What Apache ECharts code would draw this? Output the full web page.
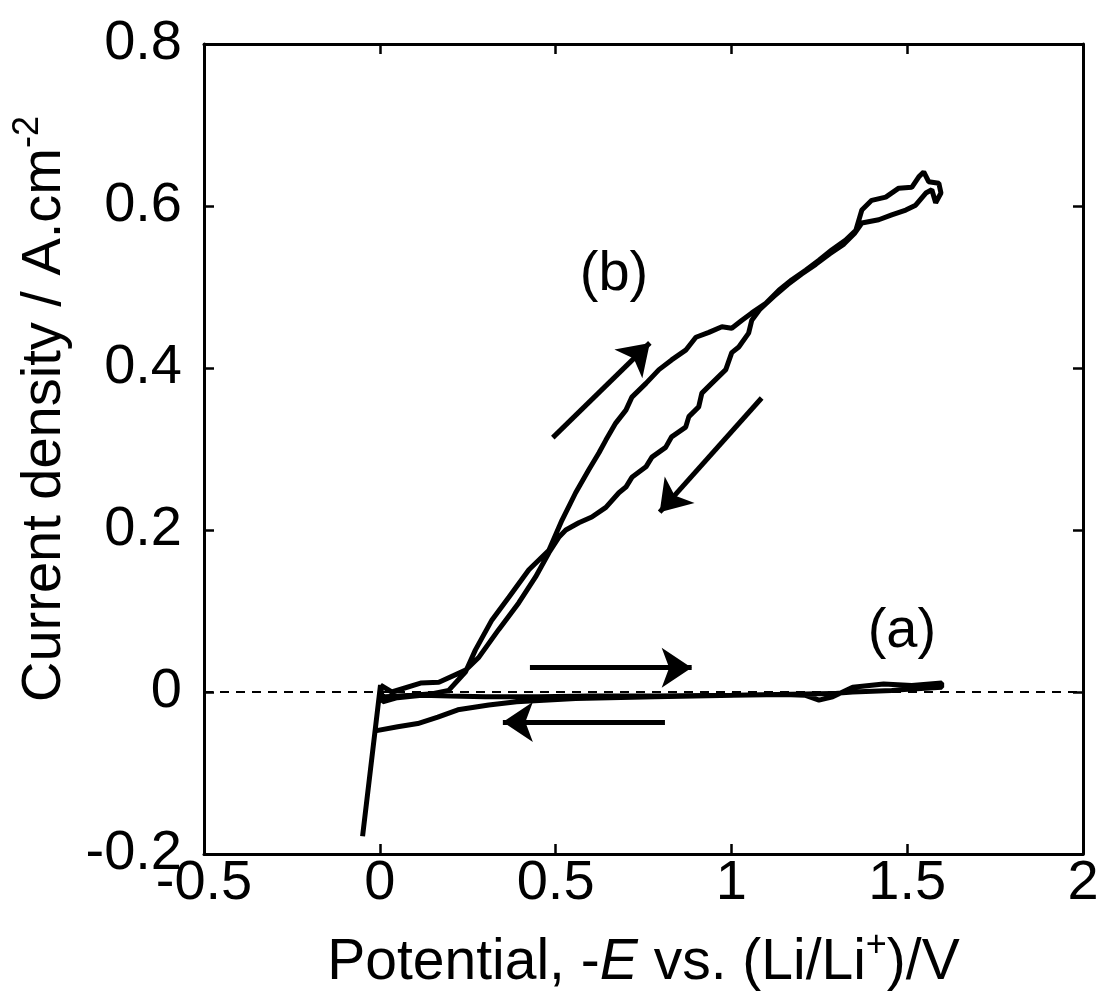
<!DOCTYPE html>
<html>
<head>
<meta charset="utf-8">
<script src="https://cdn.jsdelivr.net/npm/echarts@6/dist/echarts.min.js"></script>
<style>
  html, body { margin: 0; padding: 0; background: #fff; }
  #chart { width: 1105px; height: 998px; }
</style>
</head>
<body>
<div id="chart"></div>
<script>
// axis ticks
const xTicks = [-0.5, 0, 0.5, 1, 1.5, 2];
const yTicks = [-0.2, 0, 0.2, 0.4, 0.6, 0.8];

// curve (a): potential / V, current density / A cm-2
const aPotential = [-0.049, 0.002, 0.008, 0.05, 0.12, 0.2, 0.3, 0.45, 0.6, 0.78, 1.0, 1.15, 1.209, 1.249, 1.288, 1.345, 1.433, 1.513, 1.598,
  1.598, 1.456, 1.345, 1.288, 1.007, 0.782, 0.557, 0.389, 0.31, 0.222, 0.165, 0.108, 0.051, -0.013];
const aCurrent = [-0.178, 0.0086, -0.012, -0.007, -0.004, -0.005, -0.006, -0.006, -0.005, -0.005, -0.004, -0.003, -0.004, -0.010, -0.006, 0.006, 0.010, 0.008, 0.011,
  0.006, 0.002, 0.000, -0.002, -0.004, -0.006, -0.008, -0.012, -0.016, -0.022, -0.031, -0.039, -0.043, -0.048];

// curve (b)
const bPotential = [0.000, 0.016, 0.091, 0.150, 0.196, 0.244, 0.272, 0.319, 0.367, 0.424, 0.481, 0.518, 0.557, 0.594, 0.623, 0.643, 0.671, 0.700,
  0.717, 0.757, 0.794, 0.830, 0.870, 0.899, 0.936, 0.973, 1.001, 1.030, 1.058, 1.098, 1.135, 1.172, 1.212, 1.249, 1.286, 1.325, 1.354,
  1.371, 1.399, 1.439, 1.476, 1.513, 1.533, 1.547, 1.561, 1.590, 1.596, 1.581, 1.570, 1.553, 1.524, 1.496, 1.456, 1.419, 1.371,
  1.350, 1.320, 1.280, 1.240, 1.200, 1.160, 1.120, 1.080, 1.058, 1.049, 1.021, 1.001, 0.984, 0.944, 0.916, 0.907, 0.879, 0.870,
  0.830, 0.813, 0.774, 0.757, 0.717, 0.700, 0.680, 0.643, 0.603, 0.566, 0.529, 0.509, 0.481, 0.443, 0.395, 0.338, 0.282, 0.244,
  0.168, 0.116, 0.034, 0.002];
const bCurrent = [-0.004, -0.006, -0.004, -0.002, 0.002, 0.025, 0.052, 0.089, 0.117, 0.151, 0.175, 0.212, 0.246, 0.274, 0.295, 0.311, 0.332, 0.348,
  0.364, 0.381, 0.398, 0.410, 0.422, 0.438, 0.444, 0.451, 0.449, 0.459, 0.468, 0.480, 0.496, 0.509, 0.521, 0.533, 0.546, 0.558, 0.570,
  0.595, 0.607, 0.611, 0.622, 0.623, 0.636, 0.642, 0.630, 0.628, 0.616, 0.604, 0.620, 0.616, 0.601, 0.595, 0.589, 0.583, 0.579,
  0.566, 0.553, 0.541, 0.528, 0.516, 0.503, 0.488, 0.472, 0.459, 0.443, 0.426, 0.419, 0.398, 0.381, 0.369, 0.352, 0.340, 0.327,
  0.315, 0.302, 0.290, 0.278, 0.265, 0.253, 0.246, 0.228, 0.216, 0.209, 0.200, 0.191, 0.172, 0.142, 0.110, 0.077, 0.043, 0.027,
  0.012, 0.011, 0.000, 0.0086];

// scan direction arrows: [tail x, tail y, tip x, tip y]
const arrows = [
  [0.427, 0.030, 0.887, 0.030],
  [0.811, -0.037, 0.350, -0.037],
  [0.492, 0.314, 0.768, 0.431],
  [1.086, 0.363, 0.796, 0.222]
];

// curve labels: [x, y, text]
const curveLabels = [
  [0.666, 0.515, '(b)'],
  [1.485, 0.074, '(a)']
];

const font = 'Liberation Sans, Arial, sans-serif';
const zip = (xs, ys) => xs.map((x, i) => [x, ys[i]]);

const chart = echarts.init(document.getElementById('chart'));

const frameAxis = {
  axisLine: { show: true, onZero: false, lineStyle: { color: '#000', width: 3 } },
  axisTick: { show: true, inside: true, length: 10, lineStyle: { color: '#000', width: 2.5 } },
  splitLine: { show: false }
};

const option = {
  animation: false,
  backgroundColor: '#fff',
  grid: { left: 204, right: 22, top: 44, bottom: 144 },
  xAxis: [
    {
      type: 'value', position: 'bottom',
      min: xTicks[0], max: xTicks[xTicks.length - 1], interval: 0.5,
      ...frameAxis,
      axisLabel: {
        color: '#000', fontSize: 56, fontFamily: font, margin: 2,
        formatter: v => String(+v.toFixed(1))
      },
      name: '{t|Potential, -}{i|E}{t| vs. (Li/Li}{s|+}{t|)/V}',
      nameLocation: 'middle',
      nameGap: 74,
      nameTextStyle: {
        color: '#000', fontSize: 57, fontFamily: font,
        rich: {
          t: { fontSize: 57, fontFamily: font, color: '#000', lineHeight: 70, verticalAlign: 'middle' },
          i: { fontSize: 57, fontFamily: font, color: '#000', fontStyle: 'italic', lineHeight: 70, verticalAlign: 'middle' },
          s: { fontSize: 36, fontFamily: font, color: '#000', lineHeight: 36, verticalAlign: 'top' }
        }
      }
    },
    {
      type: 'value', position: 'top',
      min: xTicks[0], max: xTicks[xTicks.length - 1], interval: 0.5,
      ...frameAxis,
      axisLabel: { show: false }
    }
  ],
  yAxis: [
    {
      type: 'value', position: 'left',
      min: yTicks[0], max: yTicks[yTicks.length - 1], interval: 0.2,
      ...frameAxis,
      axisLabel: {
        color: '#000', fontSize: 56, fontFamily: font, margin: 22,
        formatter: v => String(+v.toFixed(1))
      },
      name: '{t|Current density / A.cm}{s|-2}',
      nameLocation: 'middle',
      nameGap: 124,
      nameRotate: 90,
      nameTextStyle: {
        color: '#000', fontSize: 56, fontFamily: font,
        padding: [0, 0, 0, 80],
        rich: {
          t: { fontSize: 56, fontFamily: font, color: '#000', lineHeight: 70, verticalAlign: 'middle' },
          s: { fontSize: 36, fontFamily: font, color: '#000', lineHeight: 36, verticalAlign: 'top' }
        }
      }
    },
    {
      type: 'value', position: 'right',
      min: yTicks[0], max: yTicks[yTicks.length - 1], interval: 0.2,
      ...frameAxis,
      axisLabel: { show: false }
    }
  ],
  series: [
    {
      name: '(a)',
      type: 'line',
      data: zip(aPotential, aCurrent),
      showSymbol: false,
      lineStyle: { color: '#000', width: 5 },
      markLine: {
        silent: true,
        symbol: 'none',
        label: { show: false },
        lineStyle: { color: '#000', width: 2, type: [9, 7] },
        data: [{ yAxis: 0 }]
      }
    },
    {
      name: '(b)',
      type: 'line',
      data: zip(bPotential, bCurrent),
      showSymbol: false,
      lineStyle: { color: '#000', width: 5 },
      markLine: {
        silent: true,
        symbol: ['none', 'arrow'],
        symbolSize: 30,
        label: { show: false },
        lineStyle: { color: '#000', width: 5, type: 'solid' },
        data: arrows.map(a => [{ coord: [a[0], a[1]] }, { coord: [a[2], a[3]] }])
      }
    },
    {
      name: 'labels',
      type: 'scatter',
      symbolSize: 0,
      itemStyle: { opacity: 1 },
      data: curveLabels,
      label: {
        show: true, position: 'inside', opacity: 1,
        formatter: p => p.data[2],
        color: '#000', fontSize: 56, fontFamily: font
      }
    }
  ]
};

chart.setOption(option);
</script>
</body>
</html>
